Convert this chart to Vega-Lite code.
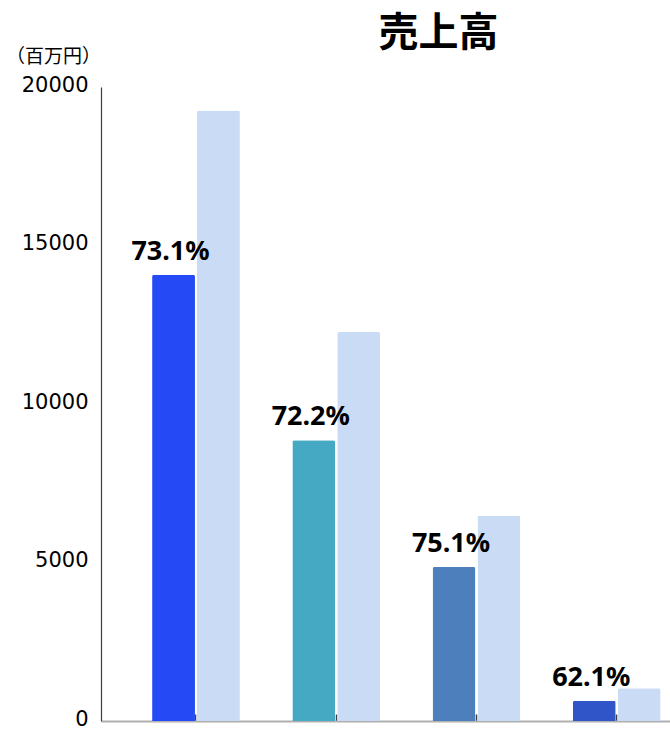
{
  "$schema": "https://vega.github.io/schema/vega-lite/v6.json",
  "autosize": {"type": "none"},
  "width": 569,
  "height": 634,
  "padding": {"left": 101, "top": 87, "right": 0, "bottom": 9},
  "background": "white",
  "title": {
    "text": "売上高",
    "font": "Noto Sans CJK JP",
    "fontSize": 40,
    "fontWeight": "bold",
    "color": "#000000",
    "anchor": "middle",
    "frame": "group",
    "baseline": "alphabetic",
    "offset": 2,
    "dx": 53,
    "dy": 41
  },
  "config": {
    "view": {"stroke": null},
    "axis": {"grid": false}
  },
  "data": {
    "values": [
      {"cat": "A", "series": "当期", "value": 14080, "rate": "73.1%"},
      {"cat": "A", "series": "前期", "value": 19260},
      {"cat": "B", "series": "当期", "value": 8860, "rate": "72.2%"},
      {"cat": "B", "series": "前期", "value": 12270},
      {"cat": "C", "series": "当期", "value": 4860, "rate": "75.1%"},
      {"cat": "C", "series": "前期", "value": 6470},
      {"cat": "D", "series": "当期", "value": 640, "rate": "62.1%"},
      {"cat": "D", "series": "前期", "value": 1030}
    ]
  },
  "encoding": {
    "x": {
      "field": "cat",
      "type": "nominal",
      "scale": {"domain": ["A", "B", "C", "D"], "paddingInner": 0.374, "paddingOuter": 0.2155, "align": 0.845},
      "axis": {
        "title": null,
        "labels": false,
        "domainColor": "#b0b0b0",
        "domainWidth": 2,
        "ticks": true,
        "tickColor": "#404040",
        "tickSize": -7,
        "tickWidth": 1.5
      }
    },
    "xOffset": {
      "field": "series",
      "type": "nominal",
      "scale": {"domain": ["当期", "前期"], "paddingInner": 0.045, "paddingOuter": 0}
    },
    "y": {
      "field": "value",
      "type": "quantitative",
      "scale": {"domain": [0, 20000], "nice": false},
      "axis": {
        "values": [0, 5000, 10000, 15000, 20000],
        "format": "d",
        "ticks": false,
        "labelFont": "DejaVu Sans",
        "labelFontSize": 21,
        "labelColor": "#000000",
        "labelPadding": 13,
        "labelOffset": -2,
        "domainColor": "#404040",
        "domainWidth": 1.2,
        "title": "（百万円）",
        "titleAngle": 0,
        "titleX": -48,
        "titleY": -31,
        "titleAlign": "center",
        "titleBaseline": "middle",
        "titleFont": "Noto Sans CJK JP",
        "titleFontSize": 19,
        "titleFontWeight": "normal",
        "titleColor": "#000000"
      }
    }
  },
  "layer": [
    {
      "transform": [{"filter": "datum.series === '当期'"}],
      "mark": {"type": "bar", "cornerRadiusTopLeft": 2, "cornerRadiusTopRight": 2},
      "encoding": {
        "color": {
          "field": "cat",
          "type": "nominal",
          "scale": {"domain": ["A", "B", "C", "D"], "range": ["#2449F5", "#45A9C4", "#4C7FBC", "#2F55C8"]},
          "legend": null
        }
      }
    },
    {
      "transform": [{"filter": "datum.series === '前期'"}],
      "mark": {"type": "bar", "color": "#C9DBF5", "cornerRadiusTopLeft": 2, "cornerRadiusTopRight": 2}
    },
    {
      "transform": [{"filter": "datum.series === '当期'"}],
      "mark": {
        "type": "text",
        "font": "Noto Sans",
        "fontSize": 27,
        "fontWeight": "bold",
        "color": "#000000",
        "baseline": "alphabetic",
        "dy": -15,
        "dx": -3
      },
      "encoding": {"text": {"field": "rate"}}
    }
  ]
}
